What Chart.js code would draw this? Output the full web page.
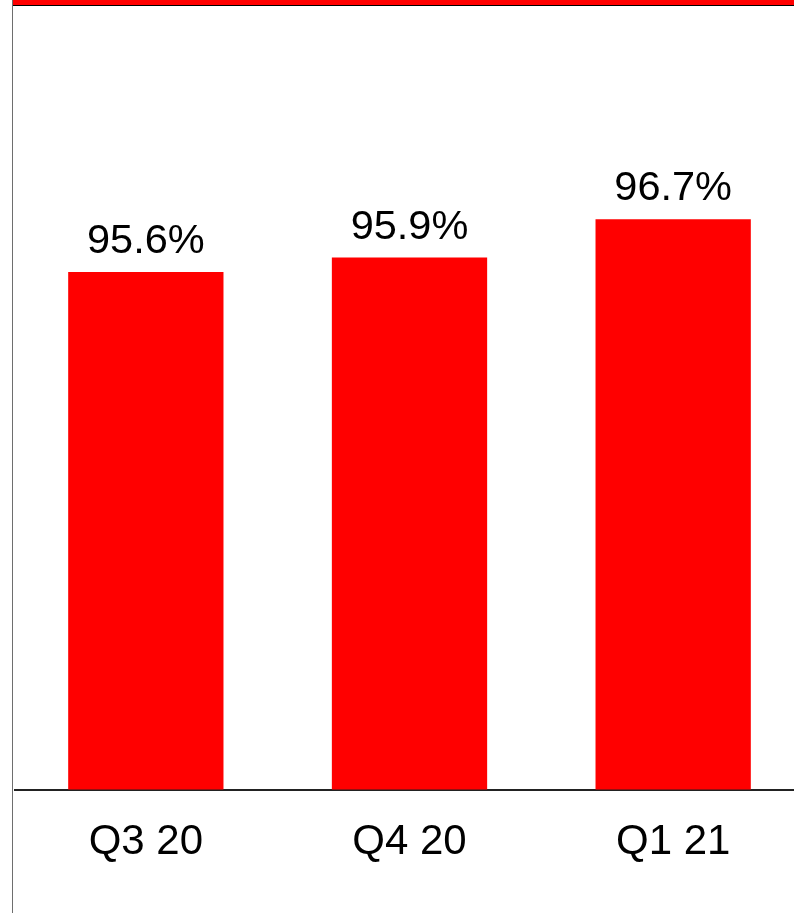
<!DOCTYPE html>
<html>
<head>
<meta charset="utf-8">
<script src="https://cdn.jsdelivr.net/npm/chart.js@4"></script>
<style>
  html, body { margin:0; padding:0; background:#fff; overflow:hidden; }
  body { width:794px; height:913px; position:relative; }
  #topband { position:absolute; left:13px; right:0; top:0; height:5px; background:#ff0000; border-bottom:1px solid #000; }
  #leftline { position:absolute; left:12px; top:0; width:1px; height:913px; background:#6e6e6e; }
  #wrap { position:absolute; left:14px; top:0; width:791px; height:913px; }
</style>
</head>
<body>
<div id="wrap"><canvas id="chart" width="791" height="913"></canvas></div>
<div id="topband"></div>
<div id="leftline"></div>
<script>
const quarters = ['Q3 20', 'Q4 20', 'Q1 21'];
const shares = [95.6, 95.9, 96.7];

const BAR_RED = '#ff0000';
const FONT = '"Liberation Sans", Arial, sans-serif';

// value labels above each bar
const barLabels = {
  id:'barLabels',
  afterDatasetsDraw(chart){
    const ctx = chart.ctx;
    const meta = chart.getDatasetMeta(0);
    ctx.save();
    ctx.font = '41.5px ' + FONT;
    ctx.fillStyle = '#000';
    ctx.textAlign = 'center';
    ctx.textBaseline = 'alphabetic';
    meta.data.forEach((bar, i)=>{
      ctx.fillText(shares[i].toFixed(1) + '%', bar.x, bar.y - 19);
    });
    ctx.restore();
  }
};

new Chart(document.getElementById('chart'), {
  type:'bar',
  data:{
    labels: quarters,
    datasets:[{ data: shares, backgroundColor: BAR_RED, borderWidth:0, categoryPercentage:1, barPercentage:0.589 }]
  },
  options:{
    responsive:false,
    animation:false,
    layout:{ padding:{ top:61, bottom:17, left:0, right:0 } },
    plugins:{ legend:{ display:false }, tooltip:{ enabled:false } },
    scales:{
      x:{
        grid:{ display:false, drawTicks:false },
        border:{ display:true, color:'#222', width:2 },
        ticks:{ color:'#000', padding:28, font:{ family:FONT, size:42 } }
      },
      y:{ display:false, min:84.8, max:100 }
    }
  },
  plugins:[barLabels]
});
</script>
</body>
</html>
